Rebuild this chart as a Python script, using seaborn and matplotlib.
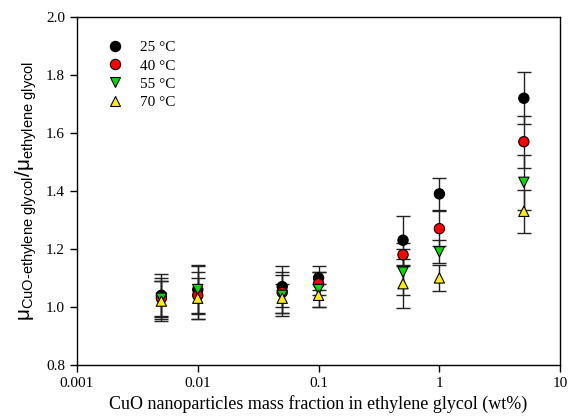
import numpy as np
import pandas as pd
import matplotlib
matplotlib.use("Agg")
import matplotlib.pyplot as plt
import seaborn as sns

# Mass fraction of CuO (wt%)
fractions = [0.005, 0.01, 0.05, 0.1, 0.5, 1, 5]
temperatures = ["25 °C", "40 °C", "55 °C", "70 °C"]

# Relative viscosity for each temperature
ratio_25 = [1.04, 1.06, 1.07, 1.10, 1.23, 1.39, 1.72]
ratio_40 = [1.03, 1.04, 1.05, 1.08, 1.18, 1.27, 1.57]
ratio_55 = [1.03, 1.06, 1.04, 1.06, 1.12, 1.19, 1.43]
ratio_70 = [1.02, 1.03, 1.03, 1.04, 1.08, 1.10, 1.33]

# Uncertainty (±) for each temperature
err_25 = [0.075, 0.085, 0.07, 0.04, 0.085, 0.055, 0.09]
err_40 = [0.07, 0.08, 0.07, 0.04, 0.04, 0.06, 0.09]
err_55 = [0.06, 0.08, 0.07, 0.06, 0.08, 0.04, 0.095]
err_70 = [0.07, 0.07, 0.05, 0.04, 0.085, 0.045, 0.075]

x_ticks = [0.001, 0.01, 0.1, 1, 10]
x_tick_labels = ["0.001", "0.01", "0.1", "1", "10"]
y_ticks = [0.8, 1.0, 1.2, 1.4, 1.6, 1.8, 2.0]

ratios = [ratio_25, ratio_40, ratio_55, ratio_70]
errs = [err_25, err_40, err_55, err_70]

df = pd.DataFrame({
    "fraction": np.tile(fractions, len(temperatures)),
    "ratio": np.concatenate(ratios),
    "err": np.concatenate(errs),
    "temp": np.repeat(temperatures, len(fractions)),
})

sns.set_theme(style="ticks")
plt.rcParams["font.family"] = ["Liberation Serif", "DejaVu Serif"]
plt.rcParams["text.color"] = "black"
plt.rcParams["axes.labelcolor"] = "black"
plt.rcParams["mathtext.fontset"] = "custom"
plt.rcParams["mathtext.rm"] = "Liberation Sans"
plt.rcParams["mathtext.it"] = "Liberation Sans:italic"

fig = plt.figure(figsize=(5.74, 4.17), dpi=100)
ax = fig.add_axes([0.134, 0.125, 0.842, 0.834])

palette = {"25 °C": "black", "40 °C": "red", "55 °C": "#00dd00", "70 °C": "#ffee00"}
markers = {"25 °C": "o", "40 °C": "o", "55 °C": "v", "70 °C": "^"}

# Error bars first so markers sit on top
for t, r, e in zip(temperatures, ratios, errs):
    ax.errorbar(fractions, r, yerr=e, fmt="none", ecolor="#222222",
                elinewidth=1.0, capsize=5, capthick=1.0, zorder=1)

sns.scatterplot(data=df, x="fraction", y="ratio", hue="temp", style="temp",
                palette=palette, markers=markers, s=55, edgecolor="black",
                linewidth=0.8, ax=ax, zorder=3, legend=True)

ax.set_xscale("log")
ax.set_xlim(0.001, 10)
ax.set_ylim(0.8, 2.0)
ax.set_xticks(x_ticks)
ax.set_xticklabels(x_tick_labels)
ax.xaxis.set_minor_locator(matplotlib.ticker.NullLocator())
ax.set_yticks(y_ticks)
ax.set_yticklabels([f"{v:.1f}" for v in y_ticks])
ax.tick_params(axis="both", direction="out", length=5, width=1, labelsize=11,
               colors="black")
for sp in ax.spines.values():
    sp.set_visible(True)
    sp.set_linewidth(1.0)
    sp.set_color("black")

ax.set_xlabel("CuO nanoparticles mass fraction in ethylene glycol (wt%)",
              fontsize=13, labelpad=4, color="black")
ax.set_ylabel(r"$\mathrm{\mu}_{\text{CuO-ethylene glycol}}/\mathrm{\mu}_{\text{ethylene glycol}}$",
              fontsize=15, labelpad=5, color="black")

leg = ax.legend(loc="upper left", bbox_to_anchor=(0.035, 0.95), frameon=False,
                fontsize=11, handletextpad=0.6, labelspacing=0.3,
                borderaxespad=0.0, title=None, labelcolor="black")

fig.savefig("out.png", dpi=100)
